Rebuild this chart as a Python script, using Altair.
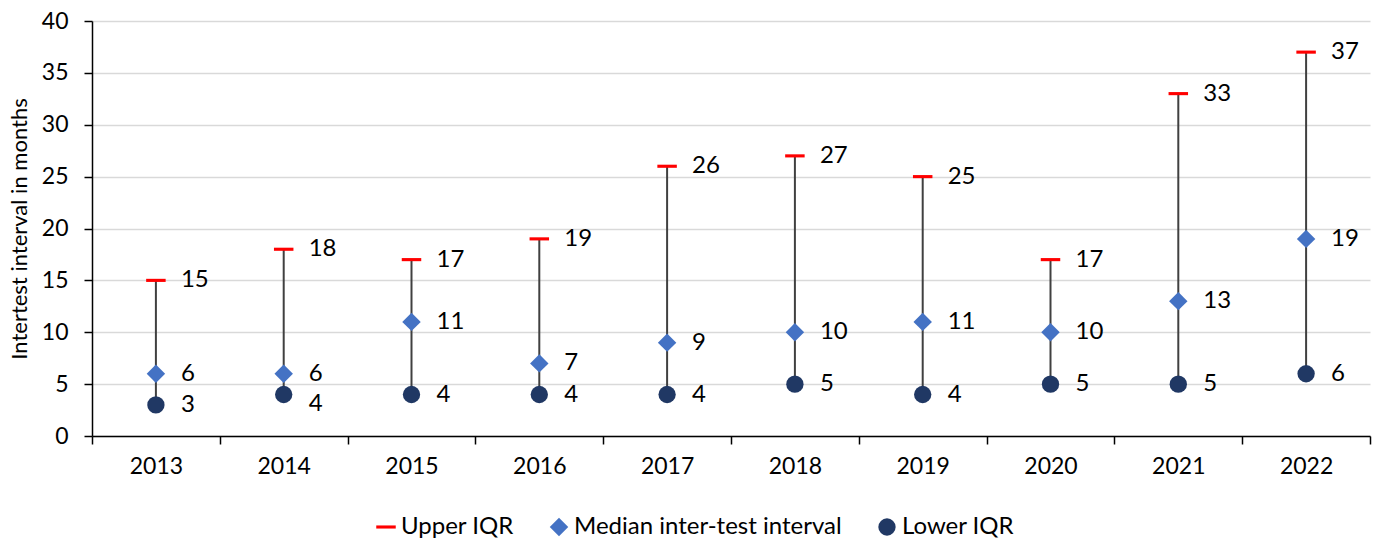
import altair as alt
import pandas as pd

# Inter-test interval summary per year (months)
years = ["2013", "2014", "2015", "2016", "2017", "2018", "2019", "2020", "2021", "2022"]
upper_iqr = [15, 18, 17, 19, 26, 27, 25, 17, 33, 37]
median_itv = [6, 6, 11, 7, 9, 10, 11, 10, 13, 19]
lower_iqr = [3, 4, 4, 4, 4, 5, 4, 5, 5, 6]

series_names = ["Upper IQR", "Median inter-test interval", "Lower IQR"]
series_colors = ["#FF0000", "#4472C4", "#203864"]
dash_path = "M-1,-0.16L1,-0.16L1,0.16L-1,0.16Z"
series_shapes = [dash_path, "diamond", "circle"]
series_sizes = [380, 300, 135]

FONT = "Lato"

range_df = pd.DataFrame({"year": years, "lower": lower_iqr, "upper": upper_iqr})
points_df = pd.concat(
    [
        pd.DataFrame({"year": years, "value": vals, "series": name})
        for name, vals in zip(series_names, [upper_iqr, median_itv, lower_iqr])
    ],
    ignore_index=True,
)
# the 2014 lower label sits a little lower so it clears the median label
points_df["shifted"] = (points_df["year"] == "2014") & (points_df["series"] == "Lower IQR")

x_enc = alt.X(
    "year:N",
    sort=years,
    scale=alt.Scale(paddingInner=0, paddingOuter=0),
    axis=alt.Axis(
        title=None,
        labelAngle=0,
        tickBand="extent",
        grid=False,
        domainColor="black",
        domainWidth=1.5,
        tickColor="black",
        tickWidth=1.5,
        tickSize=8,
        labelPadding=11,
        labelFontSize=23,
        labelFont=FONT,
        labelColor="black",
    ),
)

y_scale = alt.Scale(domain=[0, 40], nice=False)
y_axis = alt.Axis(
    title="Intertest interval in months",
    values=list(range(0, 41, 5)),
    grid=True,
    gridColor="#D9D9D9",
    gridWidth=1.5,
    domainColor="black",
    domainWidth=1.5,
    tickColor="black",
    tickWidth=1.5,
    tickSize=8,
    labelPadding=16,
    labelFontSize=23,
    labelFont=FONT,
    labelColor="black",
    titleFont=FONT,
    titleFontSize=22,
    titleFontWeight="normal",
    titleColor="black",
    titlePadding=10,
)

whiskers = (
    alt.Chart(range_df)
    .mark_rule(color="#404040", strokeWidth=2)
    .encode(x=x_enc, y=alt.Y("lower:Q", scale=y_scale, axis=y_axis), y2="upper:Q")
)

markers = (
    alt.Chart(points_df)
    .mark_point(filled=True, opacity=1, strokeWidth=0)
    .encode(
        x=x_enc,
        y=alt.Y("value:Q", scale=y_scale, axis=y_axis),
        color=alt.Color(
            "series:N",
            scale=alt.Scale(domain=series_names, range=series_colors),
            legend=alt.Legend(
                title=None,
                orient="none",
                legendX=282,
                legendY=494,
                direction="horizontal",
                labelFont=FONT,
                labelFontSize=24,
                labelColor="black",
                labelLimit=0,
                symbolSize=180,
                symbolStrokeWidth=0,
                columnPadding=33,
                labelOffset=3,
            ),
        ),
        shape=alt.Shape(
            "series:N",
            scale=alt.Scale(domain=series_names, range=series_shapes),
        ),
        size=alt.Size(
            "series:N",
            scale=alt.Scale(domain=series_names, range=series_sizes),
            legend=None,
        ),
    )
)

label_style = dict(align="left", baseline="middle", dx=25, fontSize=24, font=FONT, color="black")

labels = (
    alt.Chart(points_df)
    .transform_filter("!datum.shifted")
    .mark_text(**label_style)
    .encode(x=x_enc, y=alt.Y("value:Q", scale=y_scale, axis=y_axis), text="value:Q")
)

labels_shifted = (
    alt.Chart(points_df)
    .transform_filter("datum.shifted")
    .mark_text(dy=9, **label_style)
    .encode(x=x_enc, y=alt.Y("value:Q", scale=y_scale, axis=y_axis), text="value:Q")
)

chart = (
    alt.layer(whiskers, markers, labels, labels_shifted)
    .properties(
        width=1278,
        height=415,
        autosize=alt.AutoSizeParams(type="none"),
        padding={"left": 92, "top": 21, "right": 7, "bottom": 102},
        background="white",
    )
    .configure_view(stroke=None)
)

chart.save("out.html", embed_options={"renderer": "svg", "actions": False})
